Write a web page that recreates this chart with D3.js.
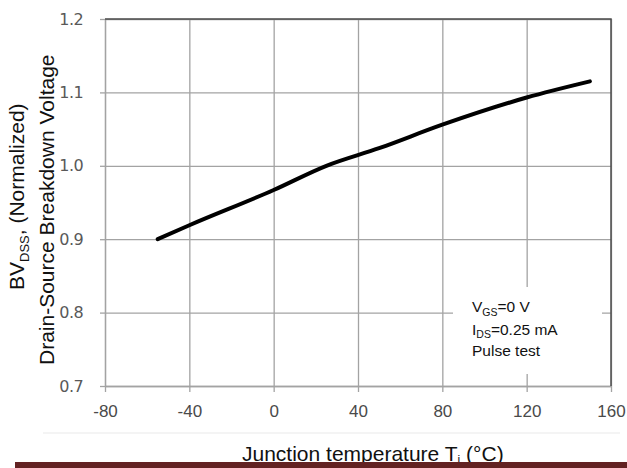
<!DOCTYPE html>
<html>
<head>
<meta charset="utf-8">
<script src="https://cdn.jsdelivr.net/npm/d3@7"></script>
<style>
  body { margin: 0; background: #fff; }
  svg { display: block; font-family: "Liberation Sans", Arial, sans-serif; }
</style>
</head>
<body>
<div id="root"></div>
<script>
// data
const temps = [-55, -40, 0, 25, 50, 80, 120, 150];
const bvdss = [0.900, 0.919, 0.967, 1.000, 1.024, 1.056, 1.093, 1.115];
const xTicks = [-80, -40, 0, 40, 80, 120, 160];
const yTicks = [0.7, 0.8, 0.9, 1.0, 1.1, 1.2];

const width = 627, height = 468;
const plot = { left: 105, right: 611, top: 19, bottom: 386 };

const svg = d3.select('#root').append('svg')
  .attr('width', width)
  .attr('height', height)
  .attr('viewBox', [0, 0, width, height]);

svg.append('rect').attr('width', width).attr('height', height).attr('fill', '#fff');

const x = d3.scaleLinear().domain([-80, 160]).range([plot.left, plot.right]);
const y = d3.scaleLinear().domain([0.7, 1.2]).range([plot.bottom, plot.top]);

// gridlines
svg.append('g')
  .attr('transform', `translate(0,${plot.bottom})`)
  .call(d3.axisBottom(x).tickValues(xTicks).tickSize(-(plot.bottom - plot.top)).tickFormat(''))
  .call((g) => g.select('.domain').remove())
  .selectAll('line').attr('stroke', '#a3a3a3').attr('stroke-width', 1.3);

svg.append('g')
  .attr('transform', `translate(${plot.left},0)`)
  .call(d3.axisLeft(y).tickValues(yTicks).tickSize(-(plot.right - plot.left)).tickFormat(''))
  .call((g) => g.select('.domain').remove())
  .selectAll('line').attr('stroke', '#a3a3a3').attr('stroke-width', 1.3);

// axes with short outer ticks and labels
const xAxis = svg.append('g')
  .attr('transform', `translate(0,${plot.bottom})`)
  .call(d3.axisBottom(x).tickValues(xTicks).tickSize(6).tickSizeOuter(0).tickPadding(13).tickFormat((d) => String(d)));
xAxis.select('.domain').attr('stroke', '#a3a3a3').attr('stroke-width', 1.3);
xAxis.selectAll('line').attr('stroke', '#a3a3a3').attr('stroke-width', 1.3);
xAxis.selectAll('text')
  .attr('fill', '#4a4a4a')
  .attr('font-size', 17)
  .attr('font-family', '"Liberation Sans", Arial, sans-serif');

const yAxis = svg.append('g')
  .attr('transform', `translate(${plot.left},0)`)
  .call(d3.axisLeft(y).tickValues(yTicks).tickSize(5).tickSizeOuter(0).tickPadding(17).tickFormat(d3.format('.1f')));
yAxis.select('.domain').attr('stroke', '#a3a3a3').attr('stroke-width', 1.3);
yAxis.selectAll('line').attr('stroke', '#a3a3a3').attr('stroke-width', 1.3);
yAxis.selectAll('text')
  .attr('fill', '#595959')
  .attr('font-size', 16)
  .attr('font-family', '"DejaVu Sans", sans-serif')
  .attr('letter-spacing', -0.6);

// darker frame on top and right
svg.append('path')
  .attr('d', `M${plot.left},${plot.top}H${plot.right}V${plot.bottom}`)
  .attr('fill', 'none')
  .attr('stroke', '#4d4d4d')
  .attr('stroke-width', 1.5);

// the curve
const line = d3.line()
  .x((d, i) => x(temps[i]))
  .y((d) => y(d))
  .curve(d3.curveMonotoneX);

svg.append('path')
  .datum(bvdss)
  .attr('d', line)
  .attr('fill', 'none')
  .attr('stroke', '#000')
  .attr('stroke-width', 4)
  .attr('stroke-linecap', 'round');

// test conditions box
svg.append('rect')
  .attr('x', 453).attr('y', 287).attr('width', 149).attr('height', 87)
  .attr('fill', '#fff');

const note = svg.append('g')
  .attr('font-size', 15.5)
  .attr('fill', '#111');

const n1 = note.append('text').attr('x', 472).attr('y', 312);
n1.append('tspan').text('V');
n1.append('tspan').attr('font-size', 10.5).attr('dy', 3.5).text('GS');
n1.append('tspan').attr('dy', -3.5).text('=0 V');

const n2 = note.append('text').attr('x', 472).attr('y', 334.5);
n2.append('tspan').text('I');
n2.append('tspan').attr('font-size', 10.5).attr('dy', 3.5).text('DS');
n2.append('tspan').attr('dy', -3.5).text('=0.25 mA');

note.append('text').attr('x', 472).attr('y', 356).text('Pulse test');

// y-axis title, two lines
const t1 = svg.append('text')
  .attr('transform', 'translate(24,290) rotate(-90)')
  .attr('font-size', 21)
  .attr('fill', '#111');
t1.append('tspan').text('BV');
t1.append('tspan').attr('font-size', 13).attr('dy', 5).text('DSS');
t1.append('tspan').attr('dy', -5).text(', (Normalized)');

svg.append('text')
  .attr('transform', 'translate(54,365) rotate(-90)')
  .attr('font-size', 21)
  .attr('fill', '#111')
  .text('Drain-Source Breakdown Voltage');

// faint separator
svg.append('line')
  .attr('x1', 43).attr('x2', 620).attr('y1', 433).attr('y2', 433)
  .attr('stroke', '#f1f1f1').attr('stroke-width', 1.5);

// x-axis title
const xt = svg.append('text')
  .attr('x', 242).attr('y', 461)
  .attr('font-size', 21)
  .attr('fill', '#111');
xt.append('tspan').text('Junction temperature T');
xt.append('tspan').attr('font-size', 12).attr('dy', 3).text('j');
xt.append('tspan').attr('dy', -3).text(' (°C)');

// maroon bar at the bottom edge
svg.append('rect')
  .attr('x', 15).attr('y', 462).attr('width', width - 15).attr('height', 6)
  .attr('fill', '#632222');
</script>
</body>
</html>
